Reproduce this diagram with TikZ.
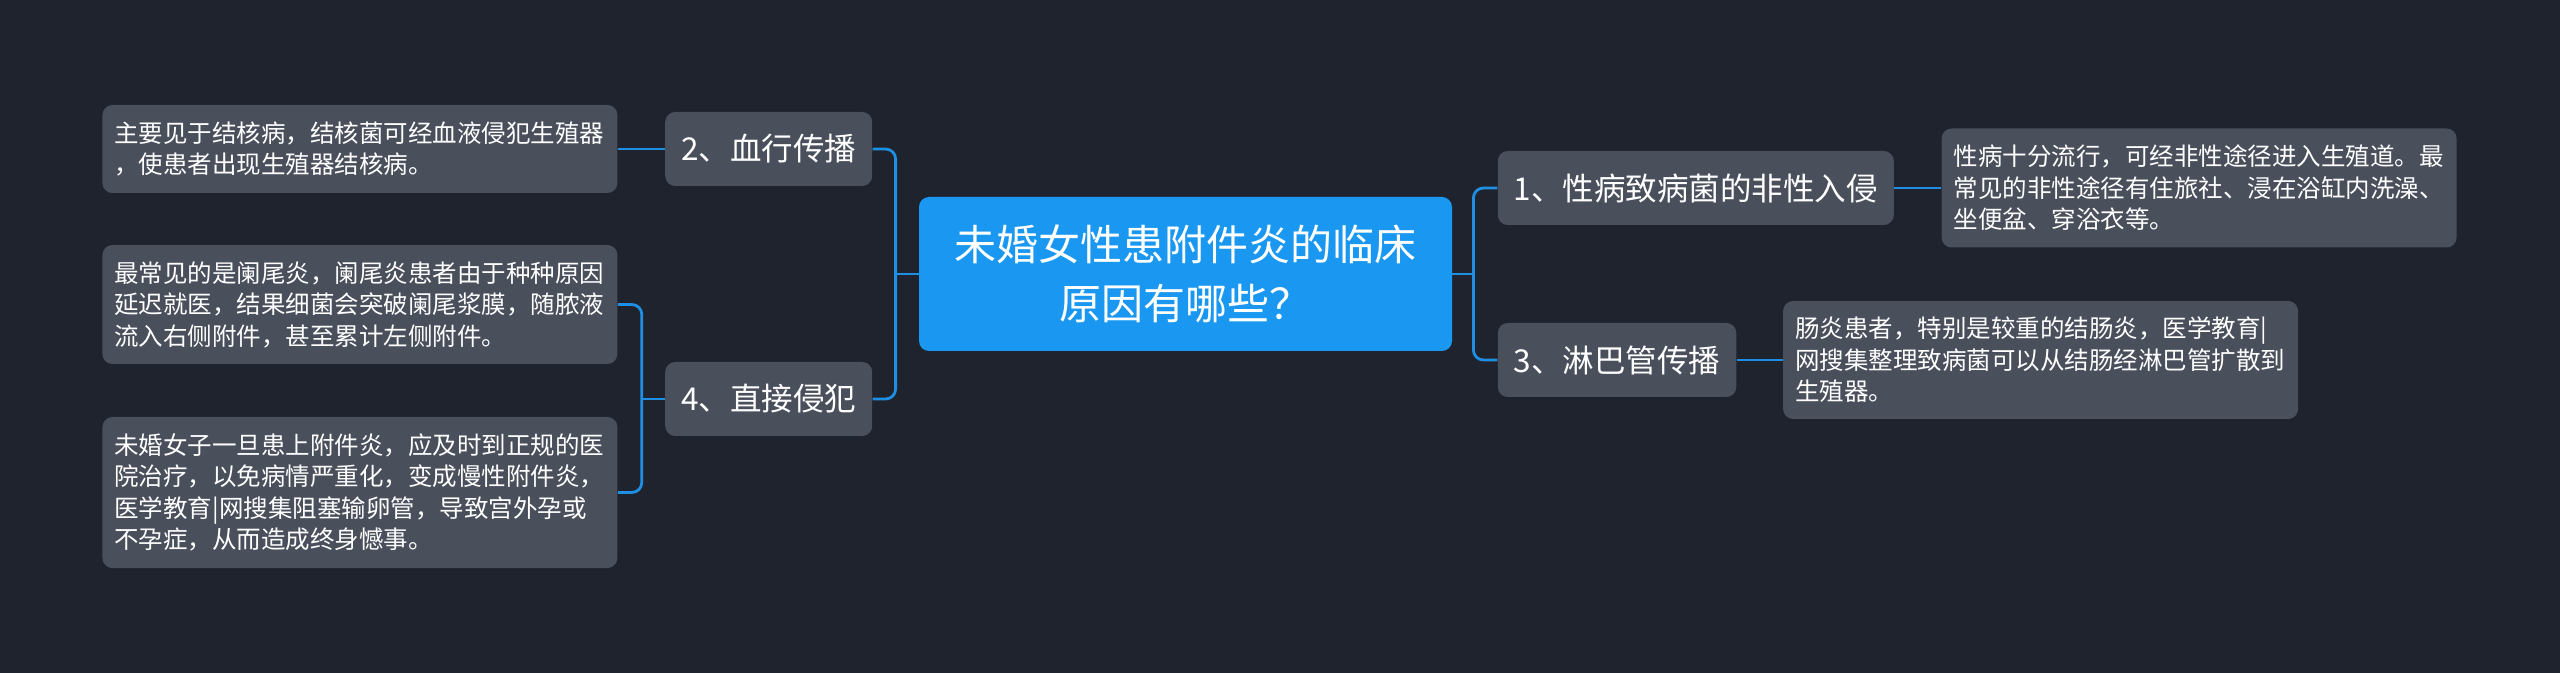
\documentclass[tikz,border=0pt]{standalone}
\usepackage{fontspec}
\setmainfont{Noto Sans CJK SC}
\usetikzlibrary{positioning}
\definecolor{bgcol}{HTML}{1F232E}
\definecolor{boxcol}{HTML}{4A4F5C}
\definecolor{rootcol}{HTML}{1A97F0}
\definecolor{linkcol}{HTML}{1E8FE3}

\begin{document}
\begin{tikzpicture}[x=0.5pt, y=-0.5pt,
  every node/.style={text=white},
  topic/.style={fill=rootcol, rounded corners=5pt, align=center, minimum width=266.5pt, minimum height=77pt, font=\fontsize{21}{29.5}\selectfont},
  branch/.style={fill=boxcol, rounded corners=5pt, inner xsep=8pt, minimum height=37pt, font=\fontsize{15.75}{19}\selectfont},
  leaf/.style={fill=boxcol, rounded corners=5pt, inner xsep=6pt, inner ysep=4pt, text width=245.5pt, align=left, font=\fontsize{12.25}{15.75}\selectfont},
  link/.style={draw=linkcol, line width=1.4pt, rounded corners=5pt}]
\useasboundingbox[fill=bgcol] (0,0) rectangle (2560,673);

\node (root) [topic] at (1185.5,274) {未婚女性患附件炎的临床\\原因有哪些？};
\node (b1) [branch, right=22.5pt of root, yshift=43pt] {1、性病致病菌的非性入侵};
\node (b3) [branch, right=22.5pt of root, yshift=-43pt] {3、淋巴管传播};
\node (b2) [branch, left=23pt of root, yshift=62.5pt] {2、血行传播};
\node (b4) [branch, left=23pt of root, yshift=-62.5pt] {4、直接侵犯};

\node (l1) [leaf, left=23.5pt of b2, minimum height=44pt] {主要见于结核病，结核菌可经血液侵犯生殖器\\，使患者出现生殖器结核病。};
\node (l2) [leaf, left=23.5pt of b4, yshift=47.25pt, minimum height=59.5pt] {最常见的是阑尾炎，阑尾炎患者由于种种原因\\延迟就医，结果细菌会突破阑尾浆膜，随脓液\\流入右侧附件，甚至累计左侧附件。};
\node (l3) [leaf, left=23.5pt of b4, yshift=-46.75pt, minimum height=75.5pt] {未婚女子一旦患上附件炎，应及时到正规的医\\院治疗，以免病情严重化，变成慢性附件炎，\\医学教育|网搜集阻塞输卵管，导致宫外孕或\\不孕症，从而造成终身憾事。};
\node (r1) [leaf, right=23.5pt of b1, minimum height=59.5pt] {性病十分流行，可经非性途径进入生殖道。最\\常见的非性途径有住旅社、浸在浴缸内洗澡、\\坐便盆、穿浴衣等。};
\node (r3) [leaf, right=23pt of b3, minimum height=59pt] {肠炎患者，特别是较重的结肠炎，医学教育|\\网搜集整理致病菌可以从结肠经淋巴管扩散到\\生殖器。};

\coordinate [right=10.5pt of root.east] (jr);
\coordinate [left=11.5pt of root.west] (jl);
\coordinate [left=11.5pt of b4.west] (j4);

\draw[link] (root.east) -- (jr);
\draw[link] (jr) |- (b1.west);
\draw[link] (jr) |- (b3.west);
\draw[link] (root.west) -- (jl);
\draw[link] (jl) |- (b2.east);
\draw[link] (jl) |- (b4.east);
\draw[link] (b2.west) -- (l1.east);
\draw[link] (b4.west) -- (j4);
\draw[link] (j4) |- (l2.east);
\draw[link] (j4) |- (l3.east);
\draw[link] (b1.east) -- (r1.west);
\draw[link] (b3.east) -- (r3.west);
\end{tikzpicture}
\end{document}
